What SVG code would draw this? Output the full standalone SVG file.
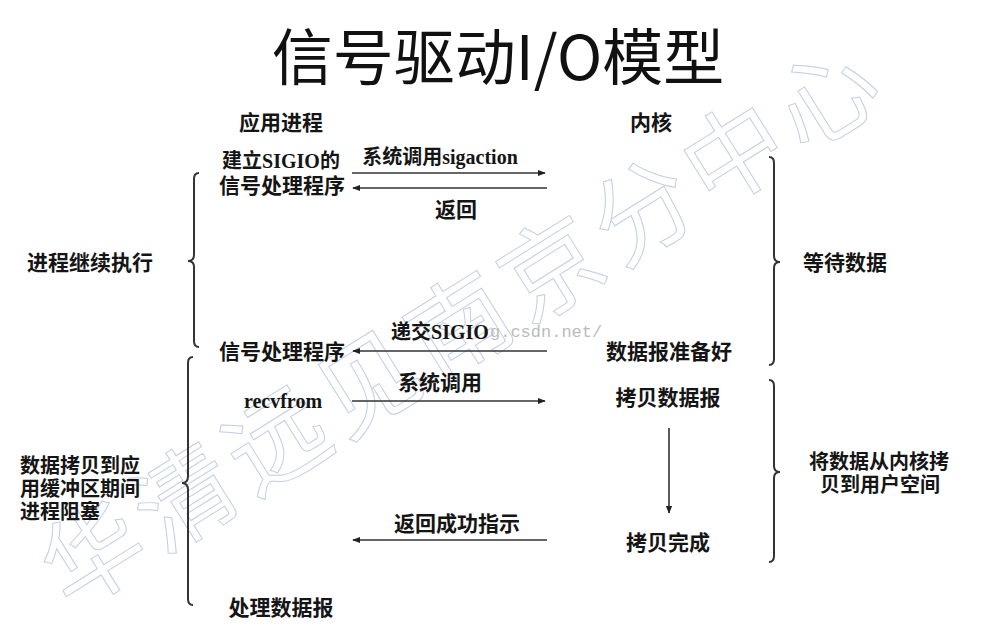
<svg xmlns="http://www.w3.org/2000/svg" width="989" height="637" viewBox="0 0 989 637">
<defs>
<style>
.t{font-family:"Noto Sans CJK SC","Liberation Sans",sans-serif;font-size:21px;font-weight:bold;fill:#151515;text-anchor:middle}
.s{font-family:"Liberation Sans","Noto Sans CJK SC",sans-serif;font-size:20px}
.p{font-family:"Liberation Sans","Noto Sans CJK SC",sans-serif}
.m{font-family:"Liberation Serif","Noto Sans CJK SC",serif;font-size:20px;font-weight:bold;fill:#151515;text-anchor:middle}
.l{text-anchor:start}
.title{font-family:"Noto Sans CJK SC","Liberation Sans",sans-serif;font-size:61px;font-weight:normal;fill:#111;text-anchor:middle}
.ln{stroke:#333;stroke-width:1.6;fill:none}
.br{stroke:#333;stroke-width:2;fill:none}
.wm{font-family:"Noto Sans CJK SC",sans-serif;font-size:100px;fill:none;stroke:#c3cee3;stroke-width:1}
.wu{font-family:"Liberation Mono",monospace;font-size:17px;fill:#bbb}
</style>
<marker id="ah" viewBox="0 0 10 10" refX="9" refY="5" markerWidth="8" markerHeight="8" markerUnits="userSpaceOnUse" orient="auto">
<path d="M0,1 L10,5 L0,9 z" fill="#222"/>
</marker>
</defs>
<rect width="989" height="637" fill="#fff"/>
<g id="watermark">
<text class="wm" transform="translate(70,612) rotate(-32)" letter-spacing="8">华清远见南京分中心</text>
<text class="wu" x="490" y="337">g.csdn.net/</text>
</g>
<text class="title" x="498" y="80">信号驱动I/O模型</text>
<g id="connectors">
<line class="ln" x1="352" y1="173" x2="545" y2="173" marker-end="url(#ah)"/>
<line class="ln" x1="547" y1="188" x2="353" y2="188" marker-end="url(#ah)"/>
<line class="ln" x1="547" y1="351" x2="353" y2="351" marker-end="url(#ah)"/>
<line class="ln" x1="352" y1="401" x2="545" y2="401" marker-end="url(#ah)"/>
<line class="ln" x1="547" y1="540" x2="353" y2="540" marker-end="url(#ah)"/>
<line class="ln" x1="669" y1="428" x2="669" y2="513" marker-end="url(#ah)"/>
<text class="m" x="440" y="164">系统调用sigaction</text>
<text class="t" x="456" y="217">返回</text>
<text class="m" x="440" y="339">递交SIGIO</text>
<text class="t" x="440" y="390">系统调用</text>
<text class="t" x="457" y="531">返回成功指示</text>
</g>
<g id="braces">
<path class="br" d="M199,173 Q194,173 194,179 L194,255 Q194,261 188,261 Q194,261 194,267 L194,341 Q194,347 199,347"/>
<path class="br" d="M193,357 Q188,357 188,363 L188,476 Q188,483 182,483 Q188,483 188,490 L188,599 Q188,605 193,605"/>
<path class="br" d="M769,157 Q774,157 774,163 L774,256 Q774,262 780,262 Q774,262 774,268 L774,359 Q774,365 769,365"/>
<path class="br" d="M769,380 Q774,380 774,386 L774,466 Q774,472 780,472 Q774,472 774,478 L774,556 Q774,562 769,562"/>
</g>
<g id="headers">
<text class="t" x="281" y="130">应用进程</text>
<text class="t" x="651" y="130">内核</text>
</g>
<g id="app-setup">
<text class="m" x="281" y="168">建立SIGIO的</text>
<text class="t p" x="282" y="193">信号处理程序</text>
</g>
<g id="app-handler"><text class="t" x="282" y="359">信号处理程序</text></g>
<g id="app-recvfrom"><text class="m" x="283" y="408">recvfrom</text></g>
<g id="app-process"><text class="t" x="281" y="615">处理数据报</text></g>
<g id="kernel-ready"><text class="t" x="669" y="359">数据报准备好</text></g>
<g id="kernel-copy"><text class="t" x="668" y="405">拷贝数据报</text></g>
<g id="kernel-done"><text class="t" x="668" y="550">拷贝完成</text></g>
<g id="left-continue"><text class="t" x="90" y="270">进程继续执行</text></g>
<g id="left-blocked">
<text class="t s l" x="20" y="473">数据拷贝到应</text>
<text class="t s l" x="20" y="496">用缓冲区期间</text>
<text class="t s l" x="20" y="519">进程阻塞</text>
</g>
<g id="right-wait"><text class="t" x="845" y="270">等待数据</text></g>
<g id="right-copy">
<text class="t s" x="879" y="469">将数据从内核拷</text>
<text class="t s" x="880" y="492">贝到用户空间</text>
</g>
</svg>
